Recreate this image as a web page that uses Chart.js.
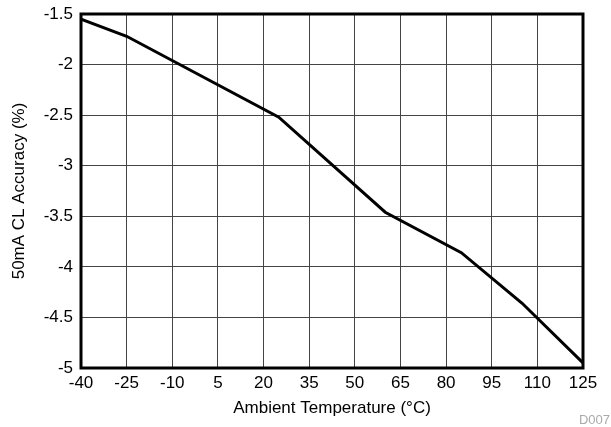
<!DOCTYPE html>
<html>
<head>
<meta charset="utf-8">
<script src="https://cdn.jsdelivr.net/npm/chart.js@4"></script>
<style>
	html, body { margin: 0; padding: 0; background: #fff; }
	#wrap { width: 611px; height: 427px; }
</style>
</head>
<body>
<div id="wrap"><canvas id="lineChart" width="611" height="427"></canvas></div>
<script>
// temperature (°C) and accuracy (%)
const temps = [-40, -25, 25, 60, 85, 105, 125];
const accuracy = [-1.55, -1.72, -2.52, -3.46, -3.86, -4.36, -4.95];
const xTicks = [-40, -25, -10, 5, 20, 35, 50, 65, 80, 95, 110, 125];
const yTicks = [-5, -4.5, -4, -3.5, -3, -2.5, -2, -1.5];

const font = "'Liberation Sans', Arial, sans-serif";

// frame around the plot area + figure id
const framePlugin = {
	id: "frame",
	afterDraw(chart) {
		const { ctx, chartArea: a } = chart;
		ctx.save();
		ctx.strokeStyle = "#000";
		ctx.lineWidth = 3;
		ctx.strokeRect(a.left, a.top, a.right - a.left, a.bottom - a.top);
		ctx.fillStyle = "#aaa";
		ctx.font = "13px " + font;
		ctx.textAlign = "right";
		ctx.textBaseline = "alphabetic";
		ctx.fillText("D007", 610, 424);
		ctx.restore();
	},
};

const ctx = document.getElementById("lineChart").getContext("2d");
new Chart(ctx, {
	type: "line",
	data: {
		datasets: [
			{
				data: temps.map((t, i) => ({ x: t, y: accuracy[i] })),
				borderColor: "#000",
				borderWidth: 3,
				pointRadius: 0,
				fill: false,
				tension: 0,
			},
		],
	},
	options: {
		responsive: false,
		animation: false,
		layout: { padding: { top: 14, right: 28, left: 9, bottom: 8 } },
		plugins: { legend: { display: false }, tooltip: { enabled: false } },
		scales: {
			x: {
				type: "linear",
				min: -40,
				max: 125,
				afterBuildTicks: (s) => { s.ticks = xTicks.map((v) => ({ value: v })); },
				afterFit: (s) => { s.height = 51; s.paddingLeft = 0; s.paddingRight = 0; },
				grid: { color: "#444", lineWidth: 1, drawTicks: false },
				border: { display: false },
				ticks: {
					color: "#000",
					font: { family: font, size: 17 },
					padding: 5,
					maxRotation: 0,
					callback: (v) => String(v),
				},
				title: {
					display: true,
					text: "Ambient Temperature (°C)",
					color: "#000",
					font: { family: font, size: 17 },
					padding: { top: 0, bottom: 0 },
				},
			},
			y: {
				min: -5,
				max: -1.5,
				afterBuildTicks: (s) => { s.ticks = yTicks.map((v) => ({ value: v })); },
				afterFit: (s) => { s.width = 72; s.paddingTop = 0; s.paddingBottom = 0; },
				grid: { color: "#444", lineWidth: 1, drawTicks: false },
				border: { display: false },
				ticks: {
					color: "#000",
					font: { family: font, size: 17 },
					padding: 8,
					callback: (v) => String(v),
				},
				title: {
					display: true,
					text: "50mA CL Accuracy (%)",
					color: "#000",
					font: { family: font, size: 17 },
					padding: { top: 0, bottom: 0 },
				},
			},
		},
	},
	plugins: [framePlugin],
});
</script>
</body>
</html>
